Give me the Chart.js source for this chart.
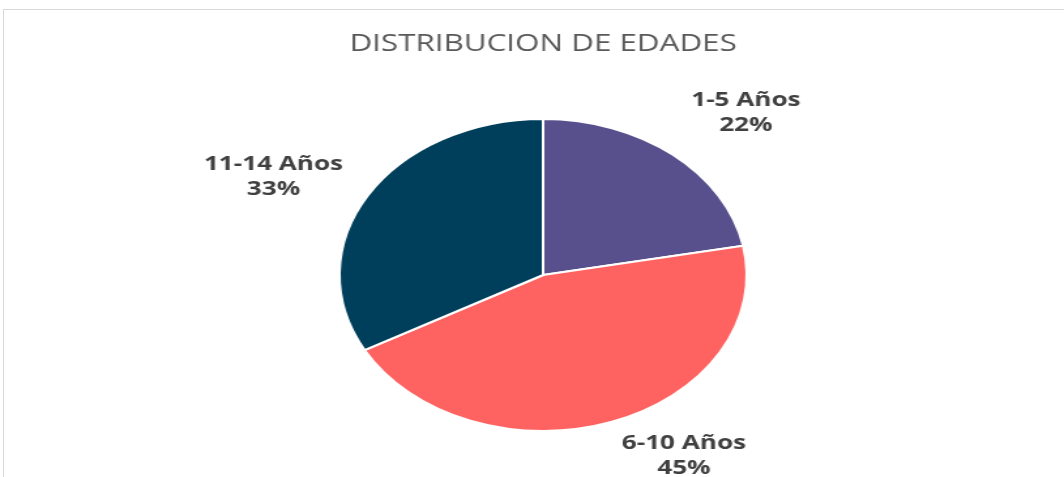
<!DOCTYPE html>
<html>
<head>
<meta charset="utf-8">
<script src="https://cdn.jsdelivr.net/npm/chart.js@4"></script>
<style>
  html, body { margin: 0; padding: 0; background: #fff; overflow: hidden; }
  #frame {
    position: absolute; left: 3px; top: 9px; width: 1200px; height: 600px;
    border-top: 1px solid #d9d9d9; border-left: 1px solid #d9d9d9;
  }
  #wrap {
    position: absolute; left: 0; top: 0; width: 815px; height: 477px;
    transform: scaleX(1.3055); transform-origin: 0 0;
  }
</style>
</head>
<body>
<div id="frame"></div>
<div id="wrap"><canvas id="myChart" width="815" height="477" style="width:815px;height:477px"></canvas></div>
<script>
const ctx = document.getElementById("myChart").getContext("2d");

const labels = ['1-5 Años', '6-10 Años', '11-14 Años'];
const values = [22, 45, 33];
const colors = ['#58508d', '#ff6361', '#003f5c'];

// labels outside the slices, two lines: name and percent
const outsideLabels = {
   id: 'outsideLabels',
   afterDatasetsDraw(chart) {
      const c = chart.ctx;
      const meta = chart.getDatasetMeta(0);
      const total = values.reduce((a, b) => a + b, 0);
      const gap = 22;
      const lineH = 25;
      c.save();
      c.font = "bold 20px 'Open Sans'";
      c.fillStyle = '#404040';
      c.textAlign = 'center';
      c.textBaseline = 'middle';
      meta.data.forEach((arc, i) => {
         const p = arc.getProps(['x', 'y', 'startAngle', 'endAngle', 'outerRadius'], true);
         const mid = (p.startAngle + p.endAngle) / 2;
         const ax = p.x + Math.cos(mid) * (p.outerRadius + gap);
         const ay = p.y + Math.sin(mid) * (p.outerRadius + gap);
         const lines = [labels[i], Math.round(values[i] / total * 100) + '%'];
         const w = Math.max(...lines.map(t => c.measureText(t).width));
         const h = lines.length * lineH;
         const left = Math.cos(mid) >= 0 ? ax : ax - w;
         // slide the block up or down smoothly with the angle
         let top = ay + h * Math.max(-1, Math.min(0, 1.3 * Math.sin(mid)));
         top = Math.min(top, chart.height - h + 4); // keep inside the box
         lines.forEach((t, k) => {
            c.fillText(t, left + w / 2, top + lineH * (k + 0.5));
         });
      });
      c.restore();
   }
};

const data = {
   labels,
   datasets: [
      {
         data: values,
         backgroundColor: colors,
         borderColor: '#ffffff',
         borderWidth: 2,
      }
   ]
};

const config = {
   type: 'pie',
   data: data,
   options: {
      responsive: false,
      animation: false,
      layout: {
         padding: { left: 17, right: 0, top: 0, bottom: 45 }
      },
      plugins: {
         legend: { display: false },
         tooltip: { enabled: false },
         title: {
            display: true,
            text: 'DISTRIBUCION DE EDADES',
            color: '#595959',
            font: { family: 'Open Sans', size: 24, weight: 'normal' },
            padding: { top: 29.6, bottom: 59.6 }
         }
      }
   },
   plugins: [outsideLabels]
};

const myChart = new Chart(ctx, config);
</script>
</body>
</html>
